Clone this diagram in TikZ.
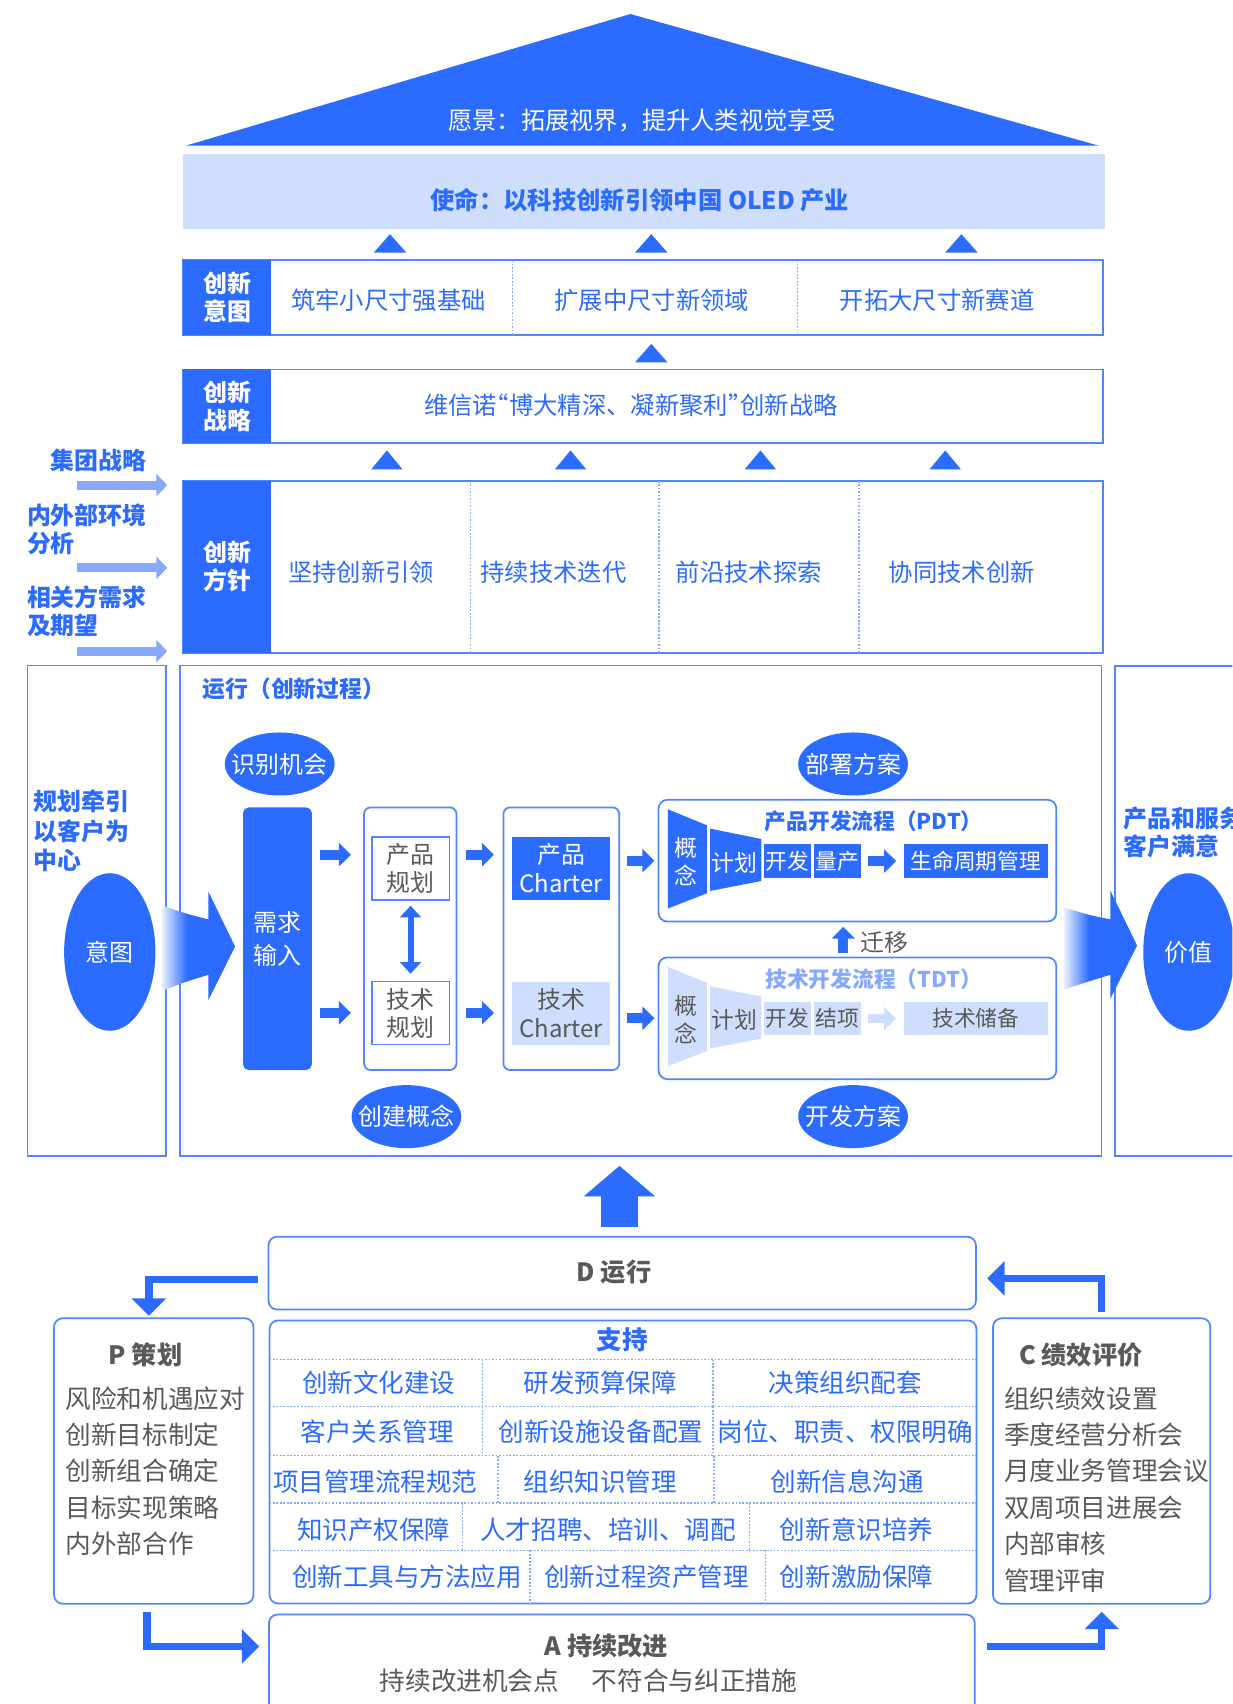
\documentclass[tikz,border=0pt]{standalone}
\usepackage{fontspec}
\setmainfont{Noto Sans CJK SC}
\usetikzlibrary{arrows.meta,shapes.geometric}

\definecolor{vblue}{HTML}{2B6BFF}
\definecolor{vline}{HTML}{4F86FF}
\definecolor{vmid}{HTML}{86A9FF}
\definecolor{vlight}{HTML}{D0DEFD}
\definecolor{vgray}{HTML}{595959}

\newcommand{\fsz}[2]{\fontsize{#1}{#2}\selectfont}

\pgfdeclarehorizontalshading{fadein}{100bp}{color(0bp)=(vblue!12); color(25bp)=(vblue!12); color(42bp)=(vblue); color(100bp)=(vblue)}

\tikzset{
  txt/.style={inner sep=0pt, text=vblue, font=\fsz{11.2pt}{13pt}},
  gtxt/.style={inner sep=0pt, text=vgray, font=\fsz{11.8pt}{16.75pt}, align=left},
  gtitle/.style={inner sep=0pt, text=vgray, font=\bfseries\fsz{11.6pt}{14pt}},
  sidelab/.style={inner sep=0pt, text=vblue, font=\bfseries\fsz{11pt}{13pt}, align=left},
  lab/.style={fill=vblue, text=white, font=\bfseries\fsz{11pt}{13pt}, align=center, inner sep=0pt, minimum width=40.65pt},
  oval/.style={ellipse, fill=vblue, text=white, inner xsep=-5pt, inner ysep=0pt, minimum width=50.5pt, minimum height=29pt, font=\fsz{11pt}{13pt}},
  bigoval/.style={ellipse, fill=vblue, text=white, inner sep=0pt, minimum width=42pt, minimum height=72.5pt, font=\fsz{11pt}{13pt}},
  rowbox/.style={draw=vline, line width=0.9pt},
  softbox/.style={draw=vline, line width=0.8pt, rounded corners=3pt, inner sep=0pt},
  planbox/.style={draw=vline, line width=0.8pt, inner sep=0pt, minimum width=35.8pt, minimum height=29pt, text=vgray, align=center, font=\fsz{11pt}{13pt}},
  charbox/.style={inner sep=0pt, minimum width=45pt, minimum height=29pt, align=center, font=\fsz{11pt}{13pt}},
  stage/.style={fill=vblue, text=white, inner sep=0pt, minimum height=15.25pt, font=\fsz{10pt}{12pt}},
  tstage/.style={fill=vlight, text=vgray, inner sep=0pt, minimum height=15.25pt, font=\fsz{10pt}{12pt}},
  fat/.style={vblue, line width=4.5pt, -{Triangle[length=5.5pt,width=10.5pt]}},
  inarrow/.style={vmid, line width=4.2pt, -{Triangle[length=5pt,width=10pt]}},
  pdca/.style={vblue, line width=3.5pt, -{Triangle[length=8pt,width=15.5pt]}},
  bigup/.style={vblue, line width=17pt, -{Triangle[length=14pt,width=32pt]}},
  divline/.style={vmid, line width=0.6pt, dash pattern=on 0.8pt off 0.8pt},
}

\begin{document}
\begin{tikzpicture}[x=0.5pt,y=-0.5pt]
    \useasboundingbox (0,0) rectangle (1134,1568);
    \clip (0,0) rectangle (1134,1568);

    % Roof and mission
    \fill[vblue] (580.1,12.9) -- (1010.9,134) -- (171.2,134) -- cycle;
    \node[txt, text=white, font=\fsz{11.15pt}{13pt}] (vision) at (591,110.5) {愿景：拓展视界，提升人类视觉享受};
    \fill[vlight] (168.4,141.8) rectangle (1016.4,211);
    \node[txt, font=\bfseries\fsz{11.2pt}{13pt}] (mission) at (588.8,184) {使命：以科技创新引领中国 OLED 产业};

    % Small triangles
    \foreach \x in {358.9,599.3,884.7}
        \fill[vblue] (\x-15,232.5) -- (\x+15,232.5) -- (\x,215.5) -- cycle;
    \fill[vblue] (584.3,333.5) -- (614.3,333.5) -- (599.3,316.5) -- cycle;
    \foreach \x in {356,525,699.7,869.8}
        \fill[vblue] (\x-14.5,432) -- (\x+14.5,432) -- (\x,414.5) -- cycle;

    % Intent row
    \draw[rowbox] (168.4,239.3) rectangle (1014.8,308.4);
    \node[lab, minimum height=34.55pt] (intent) at (209,273.85) {创新\\意图};
    \draw[divline] (471.4,239.3) -- (471.4,308.4);
    \draw[divline] (733.7,239.3) -- (733.7,308.4);
    \node[txt] (i1) at (357.5,276) {筑牢小尺寸强基础};
    \node[txt] (i2) at (599.8,276) {扩展中尺寸新领域};
    \node[txt] (i3) at (862.4,276) {开拓大尺寸新赛道};

    % Strategy row
    \draw[rowbox] (168.4,340) rectangle (1014.8,408);
    \node[lab, minimum height=34pt] (strat) at (209,374) {创新\\战略};
    \node[txt] (s0) at (580.6,372.8) {维信诺\makebox[0.5em][r]{“}博大精深、凝新聚利\makebox[0.5em][l]{”}创新战略};

    % Policy row
    \draw[rowbox] (168.4,442.4) rectangle (1014.8,600.5);
    \node[lab, minimum height=79pt] (policy) at (209,521.5) {创新\\方针};
    \foreach \x in {433,606.4,790.3}
        \draw[divline] (\x,442.4) -- (\x,600.5);
    \node[txt] (f1) at (332.3,526.2) {坚持创新引领};
    \node[txt] (f2) at (509.3,526.2) {持续技术迭代};
    \node[txt] (f3) at (689,526.2) {前沿技术探索};
    \node[txt] (f4) at (885.2,526.2) {协同技术创新};

    % Inputs
    \node[sidelab] (grp) at (90.5,423.4) {集团战略};
    \node[sidelab, anchor=west] (env) at (24.5,487) {内外部环境\\分析};
    \node[sidelab, anchor=west] (stk) at (24.5,562.2) {相关方需求\\及期望};
    \coordinate (in1) at (71.2,446.4);
    \coordinate (in2) at (71.2,522.5);
    \coordinate (in3) at (71.2,599.2);
    \foreach \c in {in1,in2,in3}
        \draw[inarrow, shorten >=7pt] (\c) -- (\c -| policy.west);

    % Columns and process frame
    \draw[rowbox, line width=0.8pt] (25.2,612.4) rectangle (152.5,1064);
    \node[rowbox, line width=0.8pt, inner sep=0pt, minimum width=423.9pt, minimum height=225.8pt] (proc) at (589.6,838.2) {};
    \draw[rowbox, line width=0.8pt] (1025.7,613) rectangle (1150,1064);
    \node[sidelab, anchor=west, font=\bfseries\fsz{11pt}{13.5pt}] (lead) at (30.7,764.6) {规划牵引\\以客户为\\中心};
    \node[bigoval] (aim) at (101,876) {意图};
    \node[sidelab, anchor=west] (sat) at (1033.4,766.2) {产品和服务\\客户满意};
    \node[bigoval] (val) at (1094,876) {价值};

    % Process
    \node[sidelab, anchor=west, font=\bfseries\fsz{10.5pt}{13pt}] (ptitle) at (186,634.2) {运行（创新过程）};
    \node[oval] (opp) at (257.4,703) {识别机会};
    \node[oval] (dep) at (785,703) {部署方案};
    \node[oval] (con) at (374,1027.5) {创建概念};
    \node[oval] (dev) at (785,1027.5) {开发方案};

    \node[fill=vblue, rounded corners=2.5pt, inner sep=0pt, minimum width=31.6pt, minimum height=120.8pt, text=white, align=center, font=\fsz{11pt}{15pt}] (need) at (255.3,863.8) {需求\\输入};
    \node[softbox, minimum width=42.5pt, minimum height=120.8pt] (plan) at (377.5,863.8) {};
    \node[planbox] (pp) at (377.8,798.9) {产品\\规划};
    \node[planbox] (tp) at (377.8,932.2) {技术\\规划};
    \node[softbox, minimum width=53.25pt, minimum height=120.8pt] (chart) at (516.5,863.8) {};
    \node[charbox, fill=vblue, text=white] (pc) at (516.5,798.9) {产品\\Charter};
    \node[charbox, fill=vlight, text=vgray] (tc) at (516.5,932.2) {技术\\Charter};

    % PDT
    \node[softbox, rounded corners=4pt, minimum width=183pt, minimum height=56pt] (pdt) at (789,792) {};
    \node[inner sep=0pt, text=vblue, font=\bfseries\fsz{10pt}{12pt}] (pdtt) at (804,755.5) {产品开发流程（PDT）};
    \fill[vblue] (614.6,744.7) -- (650.5,759.4) -- (650.5,822) -- (614.6,836) -- cycle;
    \fill[vblue] (653.5,762.5) -- (700.5,772) -- (700.5,810.7) -- (653.5,819.8) -- cycle;
    \node[inner sep=0pt, text=white, align=center, font=\fsz{10.5pt}{13pt}] (pc1) at (631.4,793) {概\\念};
    \node[inner sep=0pt, text=white, font=\fsz{10.5pt}{13pt}] (pc2) at (676,793.7) {计划};
    \node[stage, minimum width=21.5pt] (pdev) at (724.5,792.3) {开发};
    \node[stage, minimum width=21.5pt] (pmass) at (770.5,792.3) {量产};
    \node[stage, minimum width=66pt] (life) at (898,792.3) {生命周期管理};
    \draw[fat, shorten <=3pt, shorten >=3.5pt] (pmass) -- (life);

    % TDT
    \node[softbox, rounded corners=4pt, minimum width=183pt, minimum height=56pt] (tdt) at (789,937) {};
    \node[inner sep=0pt, text=vmid, font=\bfseries\fsz{10pt}{12pt}] (tdtt) at (804,901) {技术开发流程（TDT）};
    \fill[vlight] (614.6,889.7) -- (650.5,904.4) -- (650.5,967) -- (614.6,981) -- cycle;
    \fill[vlight] (653.5,907.5) -- (700.5,917) -- (700.5,955.7) -- (653.5,964.8) -- cycle;
    \node[inner sep=0pt, text=vgray, align=center, font=\fsz{10.5pt}{13pt}] (tc1) at (631.4,938) {概\\念};
    \node[inner sep=0pt, text=vgray, font=\fsz{10.5pt}{13pt}] (tc2) at (676,938.7) {计划};
    \node[tstage, minimum width=21.5pt] (tdev) at (724.5,937.3) {开发};
    \node[tstage, minimum width=21.5pt] (tend) at (770.5,937.3) {结项};
    \node[tstage, minimum width=66pt] (tres) at (898,937.3) {技术储备};
    \draw[fat, vlight, shorten <=3pt, shorten >=3.5pt] (tend) -- (tres);

    % Process arrows
    \coordinate (rowP) at (0,786.5);
    \coordinate (rowT) at (0,932);
    \draw[fat, shorten <=3.7pt, shorten >=5.65pt] (need.east |- rowP) -- (plan.west |- rowP);
    \draw[fat, shorten <=3.7pt, shorten >=5.65pt] (need.east |- rowT) -- (plan.west |- rowT);
    \draw[fat, shorten <=3.85pt, shorten >=3.95pt] (plan.east |- rowP) -- (chart.west |- rowP);
    \draw[fat, shorten <=3.85pt, shorten >=3.95pt] (plan.east |- rowT) -- (chart.west |- rowT);
    \draw[fat, shorten <=3.1pt, shorten >=1.5pt] (chart.east |- pdt.west) -- (pdt.west);
    \draw[fat, shorten <=3.1pt, shorten >=1.5pt] (chart.east |- tdt.west) -- (tdt.west);
    \draw[vblue, line width=2.75pt, {Triangle[length=5.4pt,width=9.5pt]}-{Triangle[length=5.4pt,width=9.5pt]}, shorten <=2.35pt, shorten >=3.15pt] (pp.south) -- (tp.north);
    \coordinate (mig) at (776,0);
    \draw[fat, shorten <=1.5pt, shorten >=2pt] (tdt.north -| mig) -- (pdt.south -| mig);
    \node[inner sep=0pt, text=vgray, font=\fsz{11pt}{13pt}] (migt) at (814,867) {迁移};

    % Wide arrows
    \shade[shading=fadein] (149.4,833.3) .. controls (172,841) .. (191.8,846) -- (191.8,820.5) -- (216.3,871) -- (191.8,920.2) -- (191.8,897) .. controls (172,903) .. (149.4,911.6) -- cycle;
    \shade[shading=fadein] (979.7,835.2) .. controls (1002,842) .. (1021.7,846) -- (1021.7,819.5) -- (1046.3,870) -- (1021.7,919.3) -- (1021.7,897) .. controls (1002,903) .. (979.7,910.3) -- cycle;

    % D run
    \node[softbox, rounded corners=4pt, minimum width=325.5pt, minimum height=33.5pt] (dbox) at (572.5,1171.5) {};
    \node[gtitle] (dtxt) at (565,1171) {D 运行};
    \coordinate (up) at (570,0);
    \draw[bigup, shorten <=4pt, shorten >=4pt] (dbox.north -| up) -- (proc.south -| up);

    % Support
    \node[softbox, rounded corners=4pt, minimum width=325.25pt, minimum height=130.25pt] (sup) at (573.25,1345.25) {};
    \node[txt, font=\bfseries\fsz{11.75pt}{13pt}] (supt) at (572.7,1233) {支持};
    \foreach \y in {1251,1294.2,1339.6,1383,1426.7}
        \draw[divline] (248,\y) -- (898.5,\y);
    \foreach \ya/\yb/\xa/\xb in {1251/1294.2/444.3/656, 1294.2/1339.6/444.3/656, 1339.6/1383/458.2/657, 1383/1426.7/425.4/689.7, 1426.7/1475.5/487.7/704.4} {
        \draw[divline] (\xa,\ya) -- (\xa,\yb);
        \draw[divline] (\xb,\ya) -- (\xb,\yb);
    }
    \node[txt, font=\fsz{11.75pt}{13pt}] (s11) at (348.4,1272.7) {创新文化建设};
    \node[txt, font=\fsz{11.75pt}{13pt}] (s12) at (552.5,1272.7) {研发预算保障};
    \node[txt, font=\fsz{11.75pt}{13pt}] (s13) at (777.7,1272.7) {决策组织配套};
    \node[txt, font=\fsz{11.75pt}{13pt}] (s21) at (347,1317.8) {客户关系管理};
    \node[txt, font=\fsz{11.75pt}{13pt}] (s22) at (553,1317.8) {创新设施设备配置};
    \node[txt, font=\fsz{11.75pt}{13pt}] (s23) at (777.7,1317.8) {岗位、职责、权限明确};
    \node[txt, font=\fsz{11.75pt}{13pt}] (s31) at (345.4,1363.8) {项目管理流程规范};
    \node[txt, font=\fsz{11.75pt}{13pt}] (s32) at (552.5,1363.8) {组织知识管理};
    \node[txt, font=\fsz{11.75pt}{13pt}] (s33) at (779.8,1363.8) {创新信息沟通};
    \node[txt, font=\fsz{11.75pt}{13pt}] (s41) at (344,1408) {知识产权保障};
    \node[txt, font=\fsz{11.75pt}{13pt}] (s42) at (559.6,1408) {人才招聘、培训、调配};
    \node[txt, font=\fsz{11.75pt}{13pt}] (s43) at (788.2,1408) {创新意识培养};
    \node[txt, font=\fsz{11.75pt}{13pt}] (s51) at (374.5,1451) {创新工具与方法应用};
    \node[txt, font=\fsz{11.75pt}{13pt}] (s52) at (595,1451) {创新过程资产管理};
    \node[txt, font=\fsz{11.75pt}{13pt}] (s53) at (788.2,1451) {创新激励保障};

    % P plan
    \node[softbox, rounded corners=4pt, minimum width=91.75pt, minimum height=131.35pt] (pbox) at (141.5,1344.4) {};
    \node[gtitle, anchor=west] (ptt) at (99.7,1246.6) {P 策划};
    \node[gtxt, anchor=west] (plist) at (59.8,1353.6) {风险和机遇应对\\创新目标制定\\创新组合确定\\目标实现策略\\内外部合作};

    % C check
    \node[softbox, rounded corners=4pt, minimum width=100pt, minimum height=131.35pt] (cbox) at (1013.75,1344.4) {};
    \node[gtitle, anchor=west] (ctt) at (937.3,1246.6) {C 绩效评价};
    \node[gtxt, anchor=west] (clist) at (923.5,1370.4) {组织绩效设置\\季度经营分析会\\月度业务管理会议\\双周项目进展会\\内部审核\\管理评审};

    % A act
    \node[softbox, rounded corners=4pt, minimum width=324.75pt, minimum height=44.7pt] (abox) at (572.25,1530.3) {};
    \node[gtitle] (att) at (558,1514.2) {A 持续改进};
    \node[gtxt] (asub) at (541.4,1546.4) {持续改进机会点\hspace{15pt}不符合与纠正措施};

    % PDCA loop
    \draw[pdca] ([xshift=-4.6pt,yshift=-3pt]dbox.west) -| ([xshift=-2.25pt,yshift=0.75pt]pbox.north);
    \draw[pdca] ([xshift=-3pt,yshift=-3.3pt]pbox.south) |- ([xshift=-4.1pt,yshift=7.65pt]abox.west);
    \draw[pdca] ([xshift=5.3pt,yshift=7.65pt]abox.east) -| ([yshift=-3.3pt]cbox.south);
    \draw[pdca] ([yshift=2.35pt]cbox.north) |- ([xshift=4.8pt,yshift=-2.45pt]dbox.east);
\end{tikzpicture}
\end{document}
